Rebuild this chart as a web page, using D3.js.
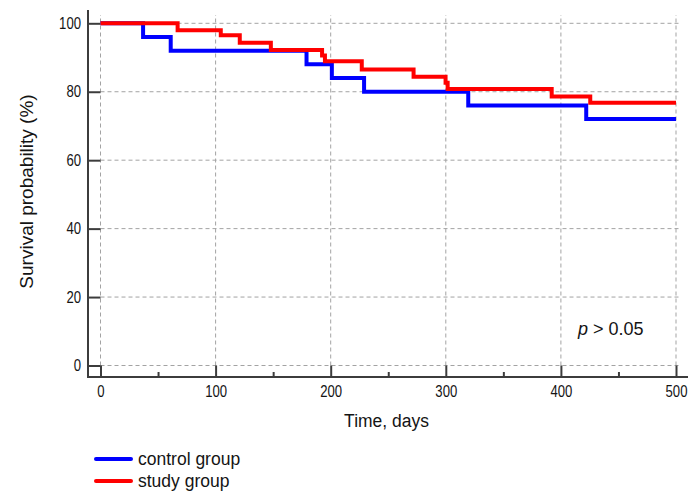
<!DOCTYPE html>
<html>
<head>
<meta charset="utf-8">
<script src="https://cdn.jsdelivr.net/npm/d3@7"></script>
<style>
  html, body { margin: 0; padding: 0; background: #fff; }
  svg { display: block; font-family: "Liberation Sans", Arial, sans-serif; }
</style>
</head>
<body>
<svg id="chart" width="690" height="494"></svg>
<script>
// Kaplan–Meier survival estimates (time in days, survival in %)
const controlTimes = [0, 37, 61, 179, 201, 229, 319.5, 422, 500];
const controlSurv  = [100, 96, 92, 88, 84, 80, 76, 72, 72];

const studyTimes = [0, 67, 104.5, 121, 148, 192.5, 195, 227, 272, 299.8, 301.6, 392, 425.5, 500];
const studySurv  = [100, 98, 96.5, 94.3, 92.2, 90.6, 88.9, 86.5, 84.4, 82.6, 80.8, 78.6, 76.8, 76.8];

const xTicks = [0, 100, 200, 300, 400, 500];
const xMinorTicks = [50, 150, 250, 350, 450];
const yTicks = [0, 20, 40, 60, 80, 100];

const seriesNames = ["control group", "study group"];
const seriesColors = ["#0000ff", "#ff0000"];

const svg = d3.select("#chart");

const x = d3.scaleLinear().domain([0, 500]).range([100.5, 676]);
const y = d3.scaleLinear().domain([0, 100]).range([365.5, 23.3]);

const axisX0 = 88;    // position of the vertical axis line
const axisY0 = 377;   // position of the horizontal axis line
const axisColor = "#3c3c3c";
const textColor = "#141414";

// dashed grid
const grid = svg.append("g").attr("stroke", "#a3a3a3").attr("stroke-width", 1)
  .attr("stroke-dasharray", "4,3").attr("fill", "none");
grid.selectAll("line.h").data(yTicks).join("line").attr("class", "h")
  .attr("x1", x(0)).attr("x2", 681.5)
  .attr("y1", d => y(d)).attr("y2", d => y(d));
grid.selectAll("line.v").data(xTicks).join("line").attr("class", "v")
  .attr("x1", d => x(d)).attr("x2", d => x(d))
  .attr("y1", y(0)).attr("y2", 15);

// axes
const yAxis = svg.append("g").attr("transform", `translate(${axisX0},0)`)
  .call(d3.axisLeft(y).tickValues(yTicks).tickSize(-(x(0) - axisX0)).tickPadding(7));
const xAxis = svg.append("g").attr("transform", `translate(0,${axisY0})`)
  .call(d3.axisBottom(x).tickValues(xTicks).tickSize(-(axisY0 - y(0))).tickPadding(8.5));
const xMinor = svg.append("g").attr("transform", `translate(0,${axisY0})`)
  .call(d3.axisBottom(x).tickValues(xMinorTicks).tickSize(-5).tickFormat(""));

[yAxis, xAxis, xMinor].forEach(g => {
  g.select(".domain").remove();
  g.selectAll(".tick line").attr("stroke", axisColor).attr("stroke-width", 2);
  g.selectAll(".tick text").attr("fill", textColor).attr("font-size", 16)
    .attr("font-family", "'Liberation Sans', Arial, sans-serif");
});
// narrow the tick numerals slightly
yAxis.selectAll(".tick text").each(function () {
  const t = d3.select(this);
  const tx = +t.attr("x");
  t.attr("x", 0).attr("transform", `translate(${tx},0) scale(0.82,1)`);
});
xAxis.selectAll(".tick text").each(function () {
  const t = d3.select(this);
  const ty = +t.attr("y");
  t.attr("y", 0).attr("transform", `translate(0,${ty}) scale(0.82,1)`);
});

// axis lines
svg.append("line").attr("x1", axisX0).attr("x2", axisX0).attr("y1", 10).attr("y2", axisY0 + 1)
  .attr("stroke", axisColor).attr("stroke-width", 2);
svg.append("line").attr("x1", axisX0 - 1).attr("x2", 688).attr("y1", axisY0).attr("y2", axisY0)
  .attr("stroke", axisColor).attr("stroke-width", 2);

// axis titles
svg.append("text").attr("transform", "translate(386.5,426.5) scale(0.92,1)")
  .attr("text-anchor", "middle").attr("font-size", 19).attr("fill", textColor)
  .text("Time, days");
svg.append("text").attr("transform", "translate(32.5,191.5) rotate(-90)")
  .attr("text-anchor", "middle").attr("font-size", 19).attr("fill", textColor)
  .text("Survival probability (%)");

// p-value note
const pText = svg.append("text").attr("x", 578).attr("y", 335)
  .attr("font-size", 18).attr("fill", textColor);
pText.append("tspan").attr("font-style", "italic").text("p");
pText.append("tspan").text(" > 0.05");

// survival curves (step functions)
const line = d3.line().x(d => x(d[0])).y(d => y(d[1])).curve(d3.curveStepAfter);
const series = [
  d3.zip(controlTimes, controlSurv),
  d3.zip(studyTimes, studySurv)
];
svg.append("g").selectAll("path").data(series).join("path")
  .attr("d", line)
  .attr("fill", "none")
  .attr("stroke", (d, i) => seriesColors[i])
  .attr("stroke-width", 4)
  .attr("stroke-linejoin", "miter")
  .attr("stroke-linecap", "butt");

// legend
const legend = svg.append("g").selectAll("g").data(seriesNames).join("g")
  .attr("transform", (d, i) => `translate(96,${459 + i * 22})`);
legend.append("line").attr("x1", 0).attr("x2", 35).attr("y1", 0).attr("y2", 0)
  .attr("stroke", (d, i) => seriesColors[i]).attr("stroke-width", 4)
  .attr("stroke-linecap", "round");
legend.append("text").attr("x", 42).attr("y", 5.5)
  .attr("font-size", 17.5).attr("fill", textColor).text(d => d);
</script>
</body>
</html>
